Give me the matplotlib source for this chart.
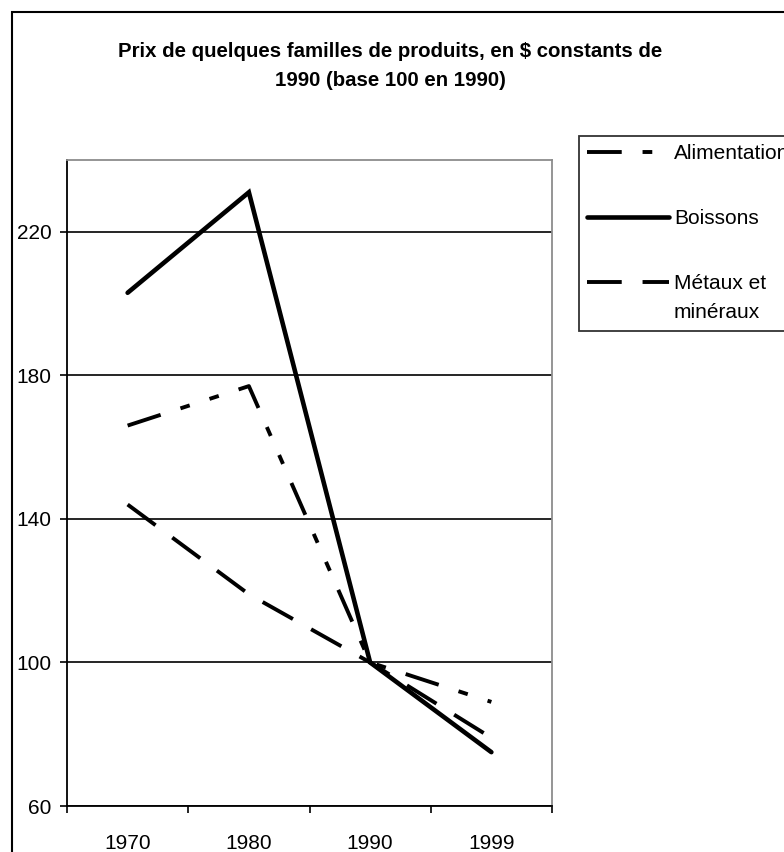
"""Prix de quelques familles de produits (base 100 en 1990) - out.png"""
import matplotlib
matplotlib.use("Agg")
import matplotlib.pyplot as plt
from matplotlib.legend_handler import HandlerLine2D
from matplotlib.patches import Rectangle

plt.rcParams["font.family"] = ["Liberation Sans", "DejaVu Sans"]
plt.rcParams["lines.scale_dashes"] = False

YEARS        = ["1970", "1980", "1990", "1999"]
ALIMENTATION = [166, 177, 100, 89]
BOISSONS     = [203, 231, 100, 75]
METAUX       = [144, 119, 100, 79]
Y_TICKS      = [60, 100, 140, 180, 220]
TITLE = ("Prix de quelques familles de produits, en $ constants de\n"
         "1990 (base 100 en 1990)")


class HandlerFirstLine(HandlerLine2D):
    """legend handle aligned with the first line of a two-line label"""
    def __init__(self, shift, **kw):
        super().__init__(**kw)
        self.shift = shift

    def create_artists(self, legend, orig_handle, xdescent, ydescent,
                       width, height, fontsize, trans):
        arts = super().create_artists(legend, orig_handle, xdescent, ydescent,
                                      width, height, fontsize, trans)
        for a in arts:
            a.set_ydata([y + self.shift for y in a.get_ydata()])
        return arts


W, H = 784, 852
fig = plt.figure(figsize=(W / 100, H / 100), dpi=100)
ax = fig.add_axes([67 / W, 1 - 806 / H, (552 - 67) / W, (806 - 160) / H])

x = list(range(len(YEARS)))
l_ali, = ax.plot(x, ALIMENTATION, color="black", lw=2.8,
                 dashes=(25, 15, 7, 15, 7, 15), dash_capstyle="butt",
                 label="Alimentation")
l_boi, = ax.plot(x, BOISSONS, color="black", lw=3.3, solid_capstyle="round",
                 solid_joinstyle="miter", label="Boissons")
l_met, = ax.plot(x, METAUX, color="black", lw=2.8, dashes=(25, 15),
                 dash_capstyle="butt", label="Métaux et\nminéraux")

ax.set_xlim(-0.5, len(YEARS) - 0.5)
ax.set_ylim(60, 240)
ax.set_yticks(Y_TICKS)
ax.set_xticks(x)
ax.set_xticklabels(YEARS)
ax.set_xticks([i - 0.5 for i in range(len(YEARS) + 1)], minor=True)
ax.tick_params(axis="x", which="major", length=0, pad=20, labelsize=15)
ax.tick_params(axis="x", which="minor", length=5, width=1.2, direction="out")
ax.tick_params(axis="y", length=5, width=1.2, direction="out", pad=6, labelsize=15)
ax.grid(axis="y", color="black", lw=1.2)
ax.set_axisbelow(True)
for side in ("left", "bottom"):
    ax.spines[side].set_color("black"); ax.spines[side].set_linewidth(1.3)
for side in ("top", "right"):
    ax.spines[side].set_color("#8c8c8c"); ax.spines[side].set_linewidth(1.3)

fig.text(390 / W, 1 - 66 / H, TITLE, ha="center", va="center",
         fontsize=14.7, fontweight="bold", linespacing=1.65)

leg = fig.legend(handles=[l_ali, l_boi, l_met],
                 handler_map={l_met: HandlerFirstLine(shift=12)},
                 loc="upper left", bbox_to_anchor=(579 / W, 1 - 136 / H),
                 fontsize=15, frameon=True, fancybox=False, edgecolor="black",
                 handlelength=3.9, handletextpad=0.25, labelspacing=2.2,
                 borderpad=0.4, borderaxespad=0)
leg.get_frame().set_linewidth(1.3)
for t in leg.get_texts():
    t.set_linespacing(1.7)

fig.add_artist(Rectangle((12 / W, -0.1), 2, 1 - 12 / H + 0.1,
                         transform=fig.transFigure, fill=False,
                         ec="black", lw=1.5))

fig.savefig("out.png", dpi=100)
